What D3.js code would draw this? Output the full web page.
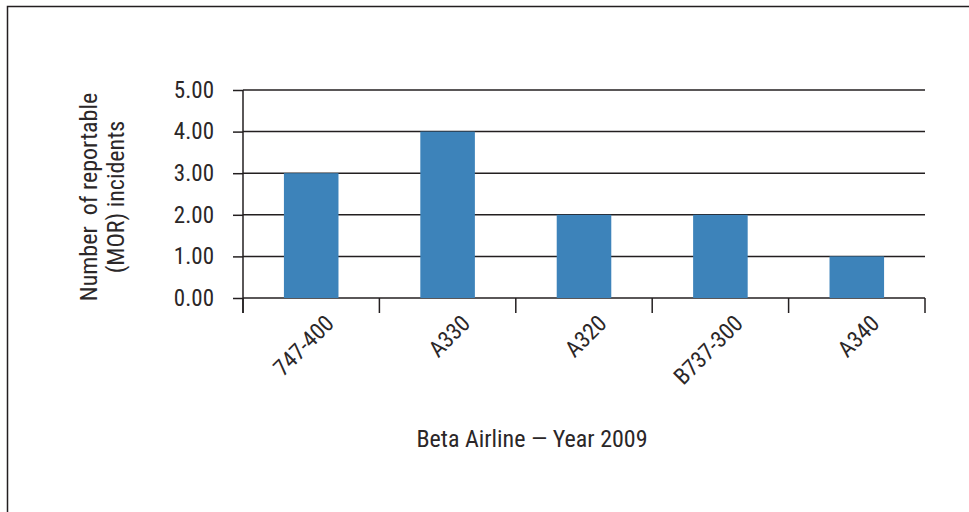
<!DOCTYPE html>
<html>
<head>
<meta charset="utf-8">
<script src="https://cdn.jsdelivr.net/npm/d3@7"></script>
<style>
  body { margin: 0; background: #fff; }
  svg text { font-family: "Liberation Sans Narrow", "Roboto Condensed", "Liberation Sans", sans-serif; fill: #2b2728; }
</style>
</head>
<body>
<svg id="chart" width="969" height="512"></svg>
<script>
// Daten
const categories = ["747-400", "A330", "A320", "B737-300", "A340"];
const incidents = [3, 4, 2, 2, 1];
const yTicks = [0, 1, 2, 3, 4, 5];
const xTitle = "Beta Airline \u2014 Year 2009";
const yTitleLines = ["Number\u00a0 of reportable", "(MOR) incidents"];

const svg = d3.select("#chart");
const ink = "#231f20";

// Rahmen
svg.append("path")
    .attr("d", "M7.5,520 L7.5,6.5 L975,6.5")
    .attr("fill", "none")
    .attr("stroke", ink)
    .attr("stroke-width", 1.5);

const plotLeft = 243, plotRight = 925, plotTop = 90, plotBottom = 298;

const x = d3.scaleBand().domain(categories).range([plotLeft, plotRight]).paddingInner(0.6).paddingOuter(0.3);
const y = d3.scaleLinear().domain([0, 5]).range([plotBottom, plotTop]);

// Y-Achse
const yAxis = svg.append("g")
    .attr("transform", `translate(${plotLeft},0)`)
    .call(d3.axisLeft(y).tickValues(yTicks).tickFormat(d3.format(".2f")).tickSize(10).tickPadding(19));
yAxis.select(".domain").remove();
yAxis.selectAll(".tick line").attr("stroke", ink).attr("stroke-width", 1.5);
yAxis.selectAll(".tick text").attr("font-size", 23).attr("font-family", null).attr("fill", null);

// Gitterlinien
svg.append("g")
    .selectAll("line")
    .data(yTicks)
    .join("line")
    .attr("x1", plotLeft)
    .attr("x2", plotRight)
    .attr("y1", d => y(d))
    .attr("y2", d => y(d))
    .attr("stroke", ink)
    .attr("stroke-width", 1.5);

// Balken
svg.append("g")
    .selectAll("rect")
    .data(categories)
    .join("rect")
    .attr("x", d => x(d))
    .attr("width", x.bandwidth())
    .attr("y", (d, i) => y(incidents[i]))
    .attr("height", (d, i) => y(0) - y(incidents[i]))
    .attr("fill", "#3d83ba");

// Y-Achsenlinie
svg.append("line")
    .attr("x1", plotLeft).attr("x2", plotLeft)
    .attr("y1", plotTop).attr("y2", plotBottom + 15)
    .attr("stroke", ink)
    .attr("stroke-width", 1.5);

// X-Achse: Ticks an den Bandgrenzen
const bounds = d3.range(categories.length + 1).map(i => plotLeft + i * (plotRight - plotLeft) / categories.length);
svg.append("g")
    .selectAll("line")
    .data(bounds)
    .join("line")
    .attr("x1", d => d).attr("x2", d => d)
    .attr("y1", plotBottom).attr("y2", plotBottom + 15)
    .attr("stroke", ink)
    .attr("stroke-width", 1.5);

// X-Labels, gedreht
svg.append("g")
    .selectAll("text")
    .data(categories)
    .join("text")
    .attr("transform", d => `translate(${x(d) + x.bandwidth() / 2 + 24},${plotBottom + 27}) rotate(-45)`)
    .attr("text-anchor", "end")
    .attr("font-size", 23)
    .text(d => d);

// X-Titel
svg.append("text")
    .attr("x", 532)
    .attr("y", 447)
    .attr("text-anchor", "middle")
    .attr("font-size", 24)
    .text(xTitle);

// Y-Titel
svg.append("text")
    .attr("transform", "translate(97,197) rotate(-90)")
    .attr("text-anchor", "middle")
    .attr("font-size", 24)
    .selectAll("tspan")
    .data(yTitleLines)
    .join("tspan")
    .attr("x", 0)
    .attr("dy", (d, i) => i === 0 ? 0 : 27)
    .text(d => d);
</script>
</body>
</html>
